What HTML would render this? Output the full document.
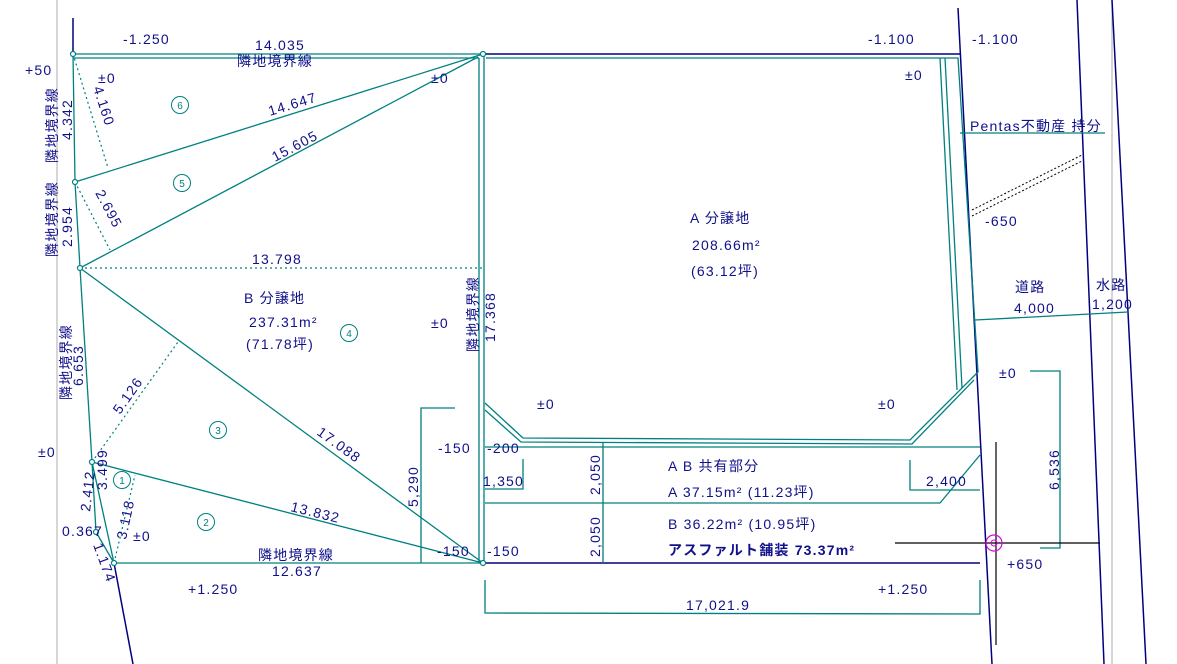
<!DOCTYPE html>
<html><head><meta charset="utf-8"><style>
html,body{margin:0;padding:0;background:#fff;}
svg{display:block;}
text{font-family:"Liberation Sans","Noto Sans CJK JP",sans-serif;fill:#10108a;font-size:14px;letter-spacing:1.2px;}
.t{stroke:#008080;fill:none;stroke-width:1.3;}
.n{stroke:#000080;fill:none;stroke-width:1.5;}
.d{stroke:#008080;fill:none;stroke-width:1.2;stroke-dasharray:2 3;}
.c{font-size:10px;fill:#008080;letter-spacing:0;}
</style></head><body>
<svg width="1177" height="664" viewBox="0 0 1177 664">
<line x1="57" y1="0" x2="57" y2="664" stroke="#bbb" stroke-width="1.2"/>
<line x1="1112" y1="0" x2="1112" y2="664" stroke="#bbb" stroke-width="1.2"/>
<polyline class="n" points="73,18 73,54"/>
<polyline class="n" points="483,54 960,54"/>
<line class="n" x1="958" y1="8" x2="992" y2="664"/>
<line class="n" x1="1077" y1="0" x2="1104" y2="664"/>
<line class="n" x1="1112" y1="0" x2="1146" y2="664"/>
<line class="n" x1="114" y1="563" x2="133" y2="664"/>
<line class="n" x1="483" y1="563" x2="980" y2="563"/>
<polyline class="t" points="73,54 483,54"/>
<polyline class="t" points="73,58 479,58"/>
<polyline class="t" points="73,54 75,182 80,268 92,462 114,563"/>
<line class="t" x1="114" y1="563" x2="483" y2="563"/>
<line class="t" x1="479" y1="58" x2="479" y2="563"/>
<line class="t" x1="484" y1="54" x2="484" y2="563"/>
<line class="t" x1="75" y1="182" x2="483" y2="54"/>
<line class="t" x1="80" y1="268" x2="478" y2="57"/>
<line class="t" x1="80" y1="268" x2="483" y2="563"/>
<line class="t" x1="92" y1="462" x2="483" y2="563"/>
<polyline class="t" points="92,462 96,532 114,563"/>
<line class="d" x1="73" y1="54" x2="108" y2="168"/>
<line class="d" x1="75" y1="182" x2="110" y2="250"/>
<line class="d" x1="80" y1="268" x2="483" y2="268"/>
<line class="d" x1="92" y1="462" x2="178" y2="342"/>
<line class="d" x1="114" y1="563" x2="135" y2="475"/>
<g fill="#fff" stroke="#008080" stroke-width="1.2">
<circle cx="73" cy="54" r="2.5"/><circle cx="483" cy="54" r="2.5"/><circle cx="75" cy="182" r="2.5"/>
<circle cx="80" cy="268" r="2.5"/><circle cx="92" cy="462" r="2.5"/><circle cx="96" cy="532" r="2.5"/>
<circle cx="114" cy="563" r="2.5"/><circle cx="483" cy="563" r="2.5"/></g>
<polyline class="t" points="486,58 958,58 978,372 910,440 523,438 485,403"/>
<polyline class="t" points="940,58 957,390"/>
<polyline class="t" points="945,58 962,388"/>
<polyline class="t" points="974,380 912,444 521,442 485,410"/>
<line class="t" x1="485" y1="447" x2="980" y2="447"/>
<polyline class="t" points="485,503 940,503 980,455"/>
<line class="t" x1="603" y1="442" x2="603" y2="563"/>
<polyline class="t" points="485,489 523,489 523,459"/>
<polyline class="t" points="910,460 910,490 980,490"/>
<polyline class="t" points="421,563 421,408 455,408"/>
<polyline class="t" points="485,580 485,613 980,614 980,580"/>
<polyline class="t" points="1030,371 1060,371 1060,548 1040,548"/>
<line class="t" x1="975" y1="320" x2="1128" y2="312"/>
<line class="t" x1="960" y1="133" x2="1105" y2="133"/>
<line x1="972" y1="210" x2="1082" y2="155" stroke="#000" stroke-width="1" stroke-dasharray="2 2"/>
<line x1="972" y1="216" x2="1082" y2="161" stroke="#000" stroke-width="1" stroke-dasharray="2 2"/>
<line x1="895" y1="543" x2="1100" y2="543" stroke="#000" stroke-width="1.2"/>
<line x1="996" y1="442" x2="996" y2="645" stroke="#000" stroke-width="1.2"/>
<circle cx="994" cy="543" r="8" fill="none" stroke="#e000e0" stroke-width="1.2"/>
<circle cx="994" cy="543" r="3" fill="none" stroke="#e000e0" stroke-width="1"/>
<g fill="none" stroke="#008080" stroke-width="1"><circle cx="180" cy="105" r="8.5"/><circle cx="182" cy="183" r="8.5"/><circle cx="349" cy="333" r="8.5"/><circle cx="218" cy="430" r="8.5"/><circle cx="122" cy="480" r="8.5"/><circle cx="206" cy="522" r="8.5"/></g>
<g text-anchor="middle"><text class="c" x="180" y="109">6</text><text class="c" x="182" y="187">5</text><text class="c" x="349" y="337">4</text><text class="c" x="218" y="434">3</text><text class="c" x="122" y="484">1</text><text class="c" x="206" y="526">2</text></g>
<text x="123" y="44">-1.250</text>
<text x="255" y="50">14.035</text>
<text x="237" y="66">隣地境界線</text>
<text x="25" y="75">+50</text>
<text x="98" y="83">±0</text>
<text x="431" y="83">±0</text>
<text x="868" y="44">-1.100</text>
<text x="972" y="44">-1.100</text>
<text x="905" y="80">±0</text>
<text x="970" y="131">Pentas不動産 持分</text>
<text x="985" y="226">-650</text>
<text x="1015" y="292">道路</text>
<text x="1014" y="313">4,000</text>
<text x="1096" y="290">水路</text>
<text x="1092" y="309">1,200</text>
<text x="999" y="378">±0</text>
<text x="690" y="223">A  分譲地</text>
<text x="692" y="250">208.66m²</text>
<text x="691" y="276">(63.12坪)</text>
<text x="252" y="264">13.798</text>
<text x="244" y="303">B  分譲地</text>
<text x="249" y="327">237.31m²</text>
<text x="246" y="349">(71.78坪)</text>
<text x="431" y="328">±0</text>
<text x="537" y="409">±0</text>
<text x="878" y="409">±0</text>
<text x="38" y="457">±0</text>
<text x="438" y="453">-150</text>
<text x="487" y="453">-200</text>
<text x="483" y="486">1,350</text>
<text x="668" y="471">A B 共有部分</text>
<text x="668" y="497">A  37.15m²  (11.23坪)</text>
<text x="668" y="529">B  36.22m²  (10.95坪)</text>
<text x="668" y="555" font-weight="bold">アスファルト舗装  73.37m²</text>
<text x="926" y="486">2,400</text>
<text x="133" y="541">±0</text>
<text x="437" y="556">-150</text>
<text x="487" y="556">-150</text>
<text x="258" y="560">隣地境界線</text>
<text x="272" y="576">12.637</text>
<text x="188" y="594">+1.250</text>
<text x="878" y="594">+1.250</text>
<text x="1007" y="569">+650</text>
<text x="686" y="610">17,021.9</text>
<text x="62" y="536">0.367</text>
<text transform="translate(270,116) rotate(-17)">14.647</text>
<text transform="translate(275,162) rotate(-28)">15.605</text>
<text transform="translate(316,434) rotate(36)">17.088</text>
<text transform="translate(290,511) rotate(14)">13.832</text>
<text transform="translate(120,415) rotate(-55)">5.126</text>
<text transform="translate(93,88) rotate(72)">4.160</text>
<text transform="translate(95,193) rotate(62)">2.695</text>
<text transform="translate(57,163) rotate(-90)">隣地境界線</text>
<text transform="translate(72,140) rotate(-90)">4.342</text>
<text transform="translate(57,257) rotate(-90)">隣地境界線</text>
<text transform="translate(72,247) rotate(-90)">2.954</text>
<text transform="translate(71,400) rotate(-90)">隣地境界線</text>
<text transform="translate(83,386) rotate(-90)">6.653</text>
<text transform="translate(90,512) rotate(-83)">2.412</text>
<text transform="translate(107,490) rotate(-90)">3.499</text>
<text transform="translate(126,540) rotate(-78)">3.118</text>
<text transform="translate(93,545) rotate(70)">1.174</text>
<text transform="translate(478,352) rotate(-90)">隣地境界線</text>
<text transform="translate(495,342) rotate(-90)">17.368</text>
<text transform="translate(418,507) rotate(-90)">5,290</text>
<text transform="translate(600,495) rotate(-90)">2,050</text>
<text transform="translate(600,557) rotate(-90)">2,050</text>
<text transform="translate(1059,490) rotate(-90)">6,536</text>
</svg>
</body></html>
